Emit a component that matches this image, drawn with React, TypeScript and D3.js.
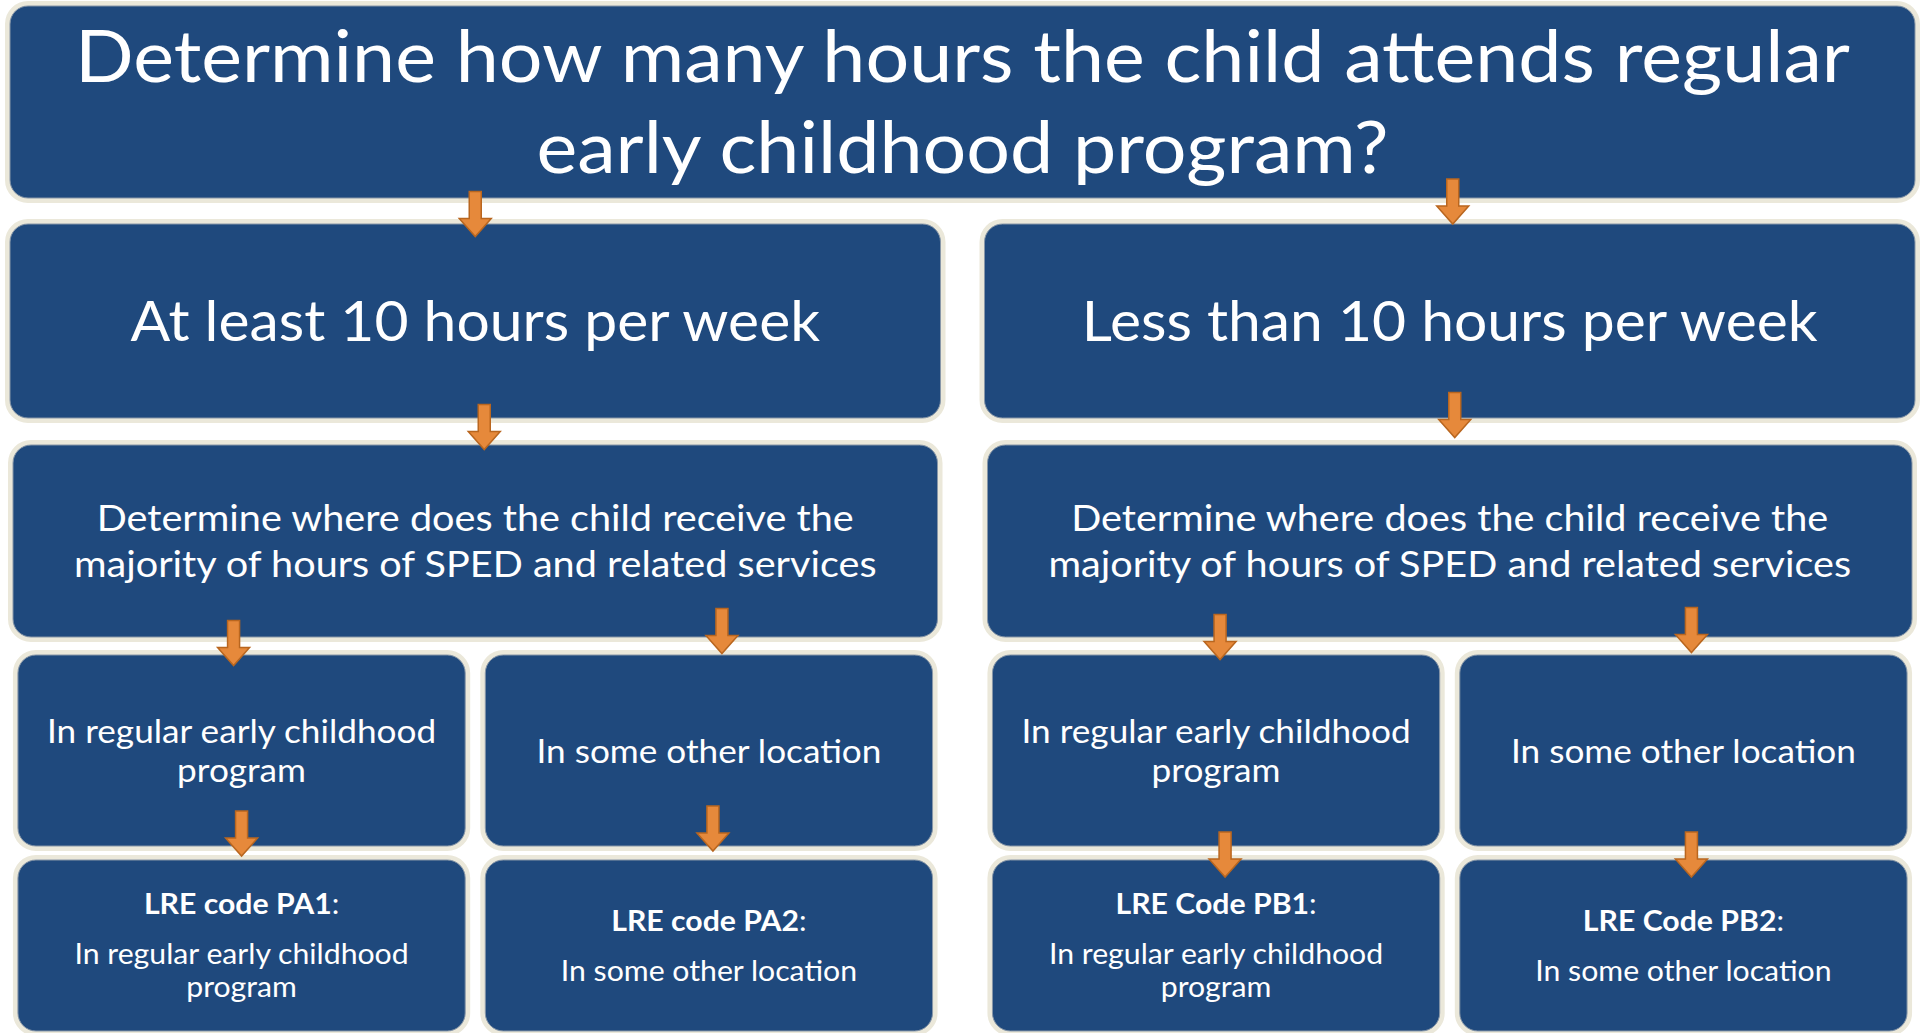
import { useEffect, useRef } from "react";
import * as d3 from "d3";

const W = 1921;
const H = 1033;

// flowchart content
const nodeIds = ["root", "A", "B", "A_where", "B_where", "A_reg", "A_other", "B_reg", "B_other", "PA1", "PA2", "PB1", "PB2"];
const nodeLevels = [0, 1, 1, 2, 2, 3, 3, 3, 3, 4, 4, 4, 4];
const nodeBranch = ["", "A", "B", "A", "B", "A", "A", "B", "B", "A", "A", "B", "B"];
const nodeSlot = ["", "", "", "", "", "reg", "other", "reg", "other", "reg", "other", "reg", "other"];
const nodeLines = [
  ["Determine how many hours the child attends regular", "early childhood program?"],
  ["At least 10 hours per week"],
  ["Less than 10 hours per week"],
  ["Determine where does the child receive the", "majority of hours of SPED and related services"],
  ["Determine where does the child receive the", "majority of hours of SPED and related services"],
  ["In regular early childhood", "program"],
  ["In some other location"],
  ["In regular early childhood", "program"],
  ["In some other location"],
  ["In regular early childhood", "program"],
  ["In some other location"],
  ["In regular early childhood", "program"],
  ["In some other location"],
];
const codeLabels = ["", "", "", "", "", "", "", "", "", "LRE code PA1", "LRE code PA2", "LRE Code PB1", "LRE Code PB2"];
const links = [
  ["root", "A"], ["root", "B"],
  ["A", "A_where"], ["B", "B_where"],
  ["A_where", "A_reg"], ["A_where", "A_other"], ["B_where", "B_reg"], ["B_where", "B_other"],
  ["A_reg", "PA1"], ["A_other", "PA2"], ["B_reg", "PB1"], ["B_other", "PB2"],
];

// layout
const rowTop = [6, 224, 445, 655, 860];
const rowBottom = [198, 418, 637, 846, 1031];
const levelInset = [0, 0, 3, 0, 0];
const levelFont = [72, 56, 37, 33.5, 28.5];
const levelStretch = [1.072, 1.05, 1.07, 1.05, 1.06];
const levelLineGap = [91, 0, 46, 39, 33];
const codeGap = 50;
const arrowDx = [0, 3, 9, 5, -8, 13, 4, 8, 0, 4, 9, 8];
const arrowDy = [3, -9.5, -4.5, -16.5, -3, -15, -9, -16, -19.5, -24.5, 1.5, 1.5];

const boxFill = "#1f497d";
const glow = "#ebe8da";
const arrowFill = "#e6893b";
const arrowStroke = "#b9661f";
const font = "Lato, 'Open Sans', sans-serif";

export default function App() {
  const svgRef = useRef<SVGSVGElement | null>(null);

  useEffect(() => {
    if (!svgRef.current) return;
    const svg = d3.select(svgRef.current);
    svg.selectAll("*").remove();

    const half = d3.scaleBand<string>().domain(["A", "B"]).range([10, 1915]).paddingInner(0.04515);
    const slot = d3.scaleBand<string>().domain(["reg", "other"]).paddingInner(0.043).paddingOuter(0.017);

    type Box = { x0: number; x1: number; y0: number; y1: number };
    const boxes: Record<string, Box> = {};
    nodeIds.forEach((id, i) => {
      const lv = nodeLevels[i];
      let x0 = 10, x1 = 1915;
      if (nodeBranch[i]) {
        x0 = half(nodeBranch[i])!;
        x1 = x0 + half.bandwidth();
        if (nodeSlot[i]) {
          slot.range([x0, x1]);
          x0 = slot(nodeSlot[i])!;
          x1 = x0 + slot.bandwidth();
        }
      }
      const ins = levelInset[lv];
      boxes[id] = { x0: x0 + ins, x1: x1 - ins, y0: rowTop[lv], y1: rowBottom[lv] };
    });

    svg.append("rect").attr("width", W).attr("height", H).attr("fill", "#ffffff");

    const gBoxes = svg.append("g");
    const gText = svg.append("g")
      .attr("text-anchor", "middle")
      .attr("font-family", font)
      .attr("fill", "#ffffff");

    nodeIds.forEach((id, i) => {
      const b = boxes[id];
      const r = 18;
      gBoxes.append("rect")
        .attr("x", b.x0).attr("y", b.y0)
        .attr("width", b.x1 - b.x0).attr("height", b.y1 - b.y0)
        .attr("rx", r).attr("ry", r)
        .attr("fill", glow).attr("stroke", glow).attr("stroke-width", 10);
      gBoxes.append("rect")
        .attr("x", b.x0).attr("y", b.y0)
        .attr("width", b.x1 - b.x0).attr("height", b.y1 - b.y0)
        .attr("rx", r).attr("ry", r)
        .attr("fill", boxFill).attr("stroke", "#8897a8").attr("stroke-width", 1);

      // text block, vertically centred on the box
      const lv = nodeLevels[i];
      const fs = levelFont[lv];
      const cap = fs * 0.7165;
      const cx = (b.x0 + b.x1) / 2;
      const cy = (b.y0 + b.y1) / 2;
      const lines = nodeLines[i];
      const gaps: number[] = [];
      const code = codeLabels[i];
      if (code) gaps.push(codeGap);
      for (let k = 1; k < lines.length; k++) gaps.push(levelLineGap[lv]);
      const span = d3.sum(gaps);
      let base = cy - span / 2 + cap / 2;

      let g = 0;
      if (code) {
        const t = gText.append("text").attr("class", `lv${lv}`).attr("x", cx).attr("y", base).attr("font-size", fs);
        t.append("tspan").attr("font-weight", 700).text(code);
        t.append("tspan").text(":");
        base += gaps[g++];
      }
      lines.forEach((ln, k) => {
        gText.append("text").attr("class", `lv${lv}`)
          .attr("x", cx).attr("y", base).attr("font-size", fs)
          .text(ln);
        if (k < lines.length - 1) base += gaps[g++];
      });
    });

    // widen Lato lines to Calibri-like widths
    levelStretch.forEach((k, lv) => {
      gText.selectAll<SVGTextElement, unknown>(`text.lv${lv}`).each(function () {
        const len = this.getComputedTextLength();
        d3.select(this).attr("textLength", len * k).attr("lengthAdjust", "spacingAndGlyphs");
      });
    });

    // arrows
    const aLen = 45, headLen = 18, shaftW = 12, headW = 32;
    const gArrows = svg.append("g");
    links.forEach(([s, tg], i) => {
      const sb = boxes[s];
      const tb = boxes[tg];
      const x = (tb.x0 + tb.x1) / 2 + arrowDx[i];
      const mid = (sb.y1 + tb.y0) / 2 + arrowDy[i];
      const y0 = mid - aLen / 2;
      const y1 = mid + aLen / 2;
      const yh = y1 - headLen;
      const p = d3.path();
      p.moveTo(x - shaftW / 2, y0);
      p.lineTo(x + shaftW / 2, y0);
      p.lineTo(x + shaftW / 2, yh);
      p.lineTo(x + headW / 2, yh);
      p.lineTo(x, y1);
      p.lineTo(x - headW / 2, yh);
      p.lineTo(x - shaftW / 2, yh);
      p.closePath();
      gArrows.append("path")
        .attr("d", p.toString())
        .attr("fill", arrowFill)
        .attr("stroke", arrowStroke)
        .attr("stroke-width", 1.5)
        .attr("stroke-linejoin", "miter");
    });
  }, []);

  return (
    <svg
      ref={svgRef}
      width={W}
      height={H}
      style={{ position: "fixed", left: 0, top: 0, display: "block" }}
    />
  );
}
